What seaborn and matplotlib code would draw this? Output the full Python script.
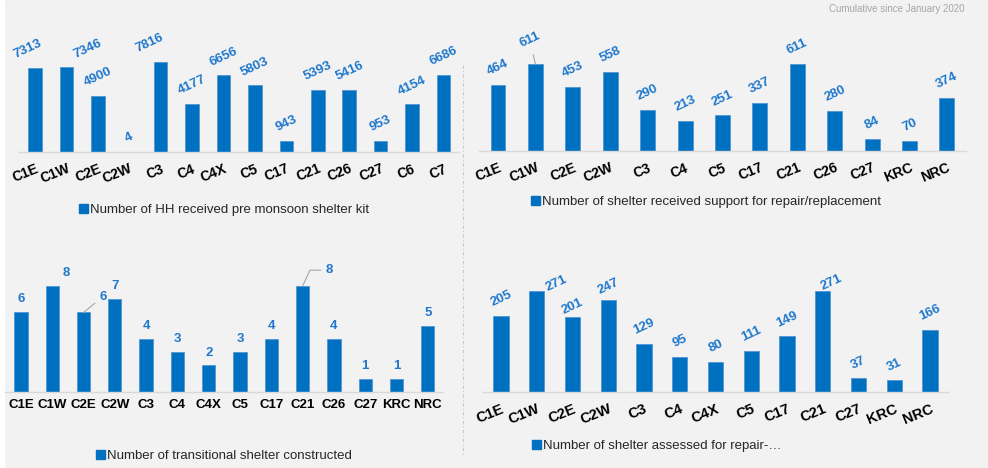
import matplotlib
matplotlib.use("Agg")
import matplotlib.pyplot as plt
from matplotlib.lines import Line2D
from matplotlib.patches import Patch, Rectangle
import seaborn as sns

# Data
camps_kit = ['C1E', 'C1W', 'C2E', 'C2W', 'C3', 'C4', 'C4X', 'C5', 'C17', 'C21', 'C26', 'C27', 'C6', 'C7']
kit_values = [7313, 7346, 4900, 4, 7816, 4177, 6656, 5803, 943, 5393, 5416, 953, 4154, 6686]

camps_repair = ['C1E', 'C1W', 'C2E', 'C2W', 'C3', 'C4', 'C5', 'C17', 'C21', 'C26', 'C27', 'KRC', 'NRC']
repair_values = [464, 611, 453, 558, 290, 213, 251, 337, 611, 280, 84, 70, 374]

camps_transit = ['C1E', 'C1W', 'C2E', 'C2W', 'C3', 'C4', 'C4X', 'C5', 'C17', 'C21', 'C26', 'C27', 'KRC', 'NRC']
transit_values = [6, 8, 6, 7, 4, 3, 2, 3, 4, 8, 4, 1, 1, 5]

camps_assessed = ['C1E', 'C1W', 'C2E', 'C2W', 'C3', 'C4', 'C4X', 'C5', 'C17', 'C21', 'C27', 'KRC', 'NRC']
assessed_values = [205, 271, 201, 247, 129, 95, 80, 111, 149, 271, 37, 31, 166]

legend_kit = 'Number of HH received pre monsoon shelter kit'
legend_repair = 'Number of shelter received support for repair/replacement'
legend_transit = 'Number of transitional shelter constructed'
legend_assessed = 'Number of shelter assessed for repair-\u2026'

BAR = '#0070C0'
LABEL = '#1F78CC'
BG = '#F2F2F2'

sns.set_theme(style='white')
plt.rcParams['font.family'] = ['Liberation Sans', 'DejaVu Sans']

fig = plt.figure(figsize=(9.88, 4.68), dpi=100, facecolor=BG)
fig.add_artist(Rectangle((0, 0), 4 / 988, 1, transform=fig.transFigure, color='white', zorder=0))


def panel(rect, cats, vals, ymax, width, tick_rot, tick_size, val_rot, legend, leg_xy,
          offsets=None, leaders=None):
    ax = fig.add_axes(rect)
    ax.set_facecolor('none')
    sns.barplot(x=cats, y=vals, color=BAR, saturation=1, width=width,
                edgecolor='#4A90D0', linewidth=0.5, ax=ax)
    ax.set_xlim(-0.5, len(cats) - 0.5)
    ax.set_ylim(0, ymax)
    for s in ['top', 'left', 'right']:
        ax.spines[s].set_visible(False)
    ax.spines['bottom'].set_color('#D9D9D9')
    ax.spines['bottom'].set_linewidth(1)
    ax.set_yticks([])
    ax.set_xlabel('')
    ax.set_ylabel('')
    ax.set_xticks(range(len(cats)))
    if tick_rot:
        ax.set_xticklabels(cats, rotation=tick_rot, ha='right', va='top',
                           rotation_mode='anchor', fontsize=tick_size, fontweight='bold', color='black')
        ax.tick_params(axis='x', length=0, pad=7)
    else:
        ax.set_xticklabels(cats, fontsize=tick_size, fontweight='bold', color='black')
        ax.tick_params(axis='x', length=0, pad=5)
    offsets = offsets or {}
    leaders = leaders or {}
    for cat, val, bar in zip(cats, vals, ax.containers[0]):
        x = bar.get_x() + bar.get_width() / 2
        y = bar.get_height()
        dx, dy = offsets.get(cat, (0, 5))
        arrow = None
        if cat in leaders:
            arrow = dict(arrowstyle='-', color='#A6A6A6', lw=0.8, shrinkA=1, shrinkB=0,
                         connectionstyle=leaders[cat])
        ax.annotate(f'{val}', xy=(x, y), xytext=(dx, dy),
                    textcoords='offset points', ha='center', va='bottom',
                    rotation=val_rot, fontsize=9.5, fontweight='bold', color=LABEL,
                    arrowprops=arrow, annotation_clip=False)
    ax.legend(handles=[Patch(color=BAR)], labels=[legend], loc='center',
              bbox_to_anchor=leg_xy, bbox_transform=fig.transFigure, frameon=False,
              handlelength=0.65, handleheight=0.65, handletextpad=0.15,
              fontsize=9.5, labelcolor='#262626')
    return ax


# top left
panel([0.0195, 0.6752, 0.4453, 0.2393], camps_kit, kit_values, 9726, 0.43, 22, 10, 25,
      legend_kit, (224 / 988, 1 - 210 / 468),
      offsets={'C1E': (-5, 5), 'C1W': (15, 5), 'C3': (-8, 5)})

# top right
panel([0.4851, 0.6774, 0.4923, 0.2372], camps_repair, repair_values, 780, 0.4, 22, 10, 25,
      legend_repair, (706 / 988, 1 - 202 / 468),
      offsets={'C1W': (-4, 10)}, leaders={'C1W': 'arc3'})

# bottom left
panel([0.00536, 0.1624, 0.4435, 0.2607], camps_transit, transit_values, 9.2, 0.425, 0, 9.5, 0,
      legend_transit, (224 / 988, 1 - 456 / 468),
      offsets={'C1W': (10, 5), 'C2E': (14, 7), 'C21': (19, 7)},
      leaders={'C2E': 'arc3', 'C21': 'angle,angleA=0,angleB=65,rad=0'})

# bottom right
panel([0.4889, 0.1624, 0.4706, 0.2607], camps_assessed, assessed_values, 327, 0.43, 22, 10.5, 25,
      legend_assessed, (657 / 988, 1 - 446 / 468),
      offsets={'C1W': (14, -2), 'C2E': (0, 0), 'C21': (6, -1), 'C2W': (0, 2)})

# dashed divider between the columns
fig.add_artist(Line2D([463 / 988, 463 / 988], [1 - 65 / 468, 1 - 454 / 468],
                      transform=fig.transFigure, color='#C8C8C8', lw=0.8,
                      linestyle=(0, (3, 2, 1, 2))))

fig.text(964 / 988, 1 - 9 / 468, 'Cumulative since January 2020', ha='right', va='center',
         fontsize=7, color='#A6A6A6')

fig.savefig('out.png', dpi=100, facecolor=BG)
